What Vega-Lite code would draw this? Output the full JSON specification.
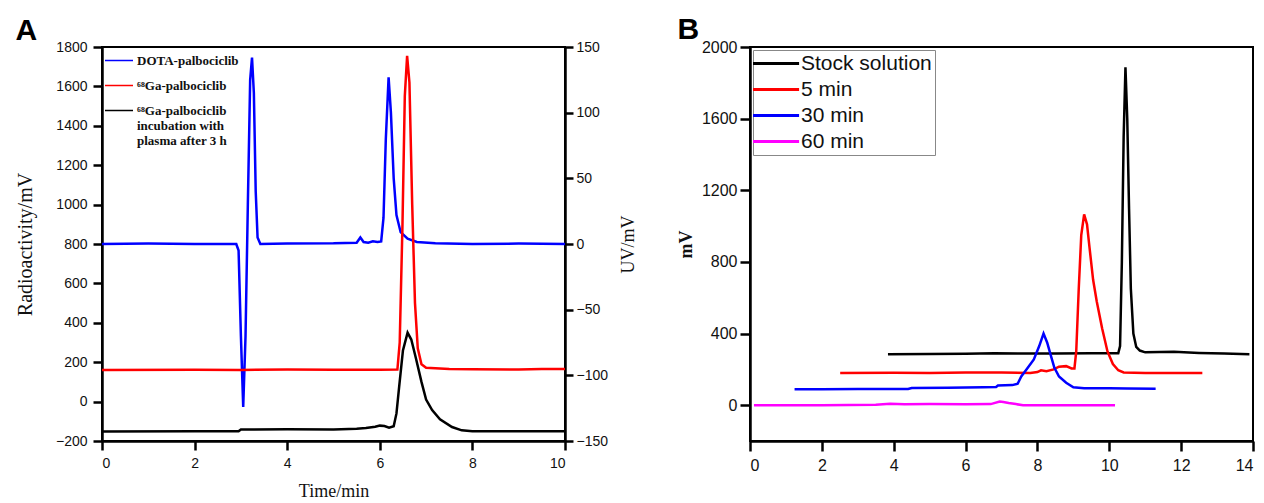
{
  "$schema": "https://vega.github.io/schema/vega-lite/v6.json",
  "background": "white",
  "padding": {"left": 14, "top": 14, "right": 0, "bottom": 2},
  "spacing": 37,
  "datasets": {
    "a": [
      {"s": "DOTA-palbociclib", "t": 0, "v": 0},
      {"s": "DOTA-palbociclib", "t": 1, "v": 0.3},
      {"s": "DOTA-palbociclib", "t": 2, "v": 0},
      {"s": "DOTA-palbociclib", "t": 2.9, "v": 0},
      {"s": "DOTA-palbociclib", "t": 2.95, "v": -5},
      {"s": "DOTA-palbociclib", "t": 3.0, "v": -70},
      {"s": "DOTA-palbociclib", "t": 3.05, "v": -124},
      {"s": "DOTA-palbociclib", "t": 3.1, "v": -70},
      {"s": "DOTA-palbociclib", "t": 3.15, "v": 30},
      {"s": "DOTA-palbociclib", "t": 3.2, "v": 125},
      {"s": "DOTA-palbociclib", "t": 3.24, "v": 142},
      {"s": "DOTA-palbociclib", "t": 3.28, "v": 115},
      {"s": "DOTA-palbociclib", "t": 3.32, "v": 40},
      {"s": "DOTA-palbociclib", "t": 3.36, "v": 5},
      {"s": "DOTA-palbociclib", "t": 3.42, "v": 0},
      {"s": "DOTA-palbociclib", "t": 4, "v": 0.3},
      {"s": "DOTA-palbociclib", "t": 5, "v": 0.5},
      {"s": "DOTA-palbociclib", "t": 5.5, "v": 1},
      {"s": "DOTA-palbociclib", "t": 5.58, "v": 5},
      {"s": "DOTA-palbociclib", "t": 5.65, "v": 1.5},
      {"s": "DOTA-palbociclib", "t": 5.75, "v": 1},
      {"s": "DOTA-palbociclib", "t": 5.85, "v": 2},
      {"s": "DOTA-palbociclib", "t": 5.95, "v": 1.5},
      {"s": "DOTA-palbociclib", "t": 6.03, "v": 2},
      {"s": "DOTA-palbociclib", "t": 6.08, "v": 20},
      {"s": "DOTA-palbociclib", "t": 6.13, "v": 80},
      {"s": "DOTA-palbociclib", "t": 6.19, "v": 127},
      {"s": "DOTA-palbociclib", "t": 6.24, "v": 100},
      {"s": "DOTA-palbociclib", "t": 6.3, "v": 50},
      {"s": "DOTA-palbociclib", "t": 6.36, "v": 22},
      {"s": "DOTA-palbociclib", "t": 6.45, "v": 9},
      {"s": "DOTA-palbociclib", "t": 6.6, "v": 4},
      {"s": "DOTA-palbociclib", "t": 6.8, "v": 1.5},
      {"s": "DOTA-palbociclib", "t": 7.2, "v": 0.5},
      {"s": "DOTA-palbociclib", "t": 8, "v": 0},
      {"s": "DOTA-palbociclib", "t": 9, "v": 0.3},
      {"s": "DOTA-palbociclib", "t": 10, "v": 0},
      {"s": "⁶⁸Ga-palbociclib", "t": 0, "v": 160},
      {"s": "⁶⁸Ga-palbociclib", "t": 2, "v": 162},
      {"s": "⁶⁸Ga-palbociclib", "t": 3, "v": 161},
      {"s": "⁶⁸Ga-palbociclib", "t": 4, "v": 163},
      {"s": "⁶⁸Ga-palbociclib", "t": 5, "v": 162},
      {"s": "⁶⁸Ga-palbociclib", "t": 6, "v": 162},
      {"s": "⁶⁸Ga-palbociclib", "t": 6.38, "v": 163},
      {"s": "⁶⁸Ga-palbociclib", "t": 6.43, "v": 300},
      {"s": "⁶⁸Ga-palbociclib", "t": 6.49, "v": 900},
      {"s": "⁶⁸Ga-palbociclib", "t": 6.54, "v": 1550},
      {"s": "⁶⁸Ga-palbociclib", "t": 6.59, "v": 1755},
      {"s": "⁶⁸Ga-palbociclib", "t": 6.64, "v": 1620},
      {"s": "⁶⁸Ga-palbociclib", "t": 6.7, "v": 1000},
      {"s": "⁶⁸Ga-palbociclib", "t": 6.76, "v": 500},
      {"s": "⁶⁸Ga-palbociclib", "t": 6.82, "v": 270},
      {"s": "⁶⁸Ga-palbociclib", "t": 6.9, "v": 190},
      {"s": "⁶⁸Ga-palbociclib", "t": 7.0, "v": 172},
      {"s": "⁶⁸Ga-palbociclib", "t": 7.5, "v": 165},
      {"s": "⁶⁸Ga-palbociclib", "t": 8, "v": 164},
      {"s": "⁶⁸Ga-palbociclib", "t": 9, "v": 163},
      {"s": "⁶⁸Ga-palbociclib", "t": 9.5, "v": 166},
      {"s": "⁶⁸Ga-palbociclib", "t": 10, "v": 165},
      {"s": "plasma", "t": 0, "v": -152},
      {"s": "plasma", "t": 2, "v": -151},
      {"s": "plasma", "t": 2.95, "v": -151},
      {"s": "plasma", "t": 3.0, "v": -142},
      {"s": "plasma", "t": 4, "v": -140},
      {"s": "plasma", "t": 5, "v": -142},
      {"s": "plasma", "t": 5.5, "v": -138},
      {"s": "plasma", "t": 5.7, "v": -134},
      {"s": "plasma", "t": 5.9, "v": -128},
      {"s": "plasma", "t": 6.0, "v": -122},
      {"s": "plasma", "t": 6.1, "v": -124},
      {"s": "plasma", "t": 6.2, "v": -132},
      {"s": "plasma", "t": 6.3, "v": -125},
      {"s": "plasma", "t": 6.36, "v": -60},
      {"s": "plasma", "t": 6.42, "v": 80},
      {"s": "plasma", "t": 6.5, "v": 260},
      {"s": "plasma", "t": 6.6, "v": 350},
      {"s": "plasma", "t": 6.68, "v": 315},
      {"s": "plasma", "t": 6.78, "v": 220},
      {"s": "plasma", "t": 6.9, "v": 100},
      {"s": "plasma", "t": 7.0, "v": 10},
      {"s": "plasma", "t": 7.13, "v": -43},
      {"s": "plasma", "t": 7.3, "v": -90},
      {"s": "plasma", "t": 7.56, "v": -129},
      {"s": "plasma", "t": 7.77, "v": -146},
      {"s": "plasma", "t": 8, "v": -150},
      {"s": "plasma", "t": 9, "v": -151},
      {"s": "plasma", "t": 10, "v": -150}
    ],
    "b": [
      {"s": "Stock solution", "t": 3.84, "v": 285},
      {"s": "Stock solution", "t": 5, "v": 286},
      {"s": "Stock solution", "t": 6, "v": 287},
      {"s": "Stock solution", "t": 6.8, "v": 290},
      {"s": "Stock solution", "t": 7.5, "v": 289},
      {"s": "Stock solution", "t": 8.5, "v": 289},
      {"s": "Stock solution", "t": 9.5, "v": 290},
      {"s": "Stock solution", "t": 10.25, "v": 290},
      {"s": "Stock solution", "t": 10.3, "v": 330},
      {"s": "Stock solution", "t": 10.35, "v": 800},
      {"s": "Stock solution", "t": 10.4, "v": 1500},
      {"s": "Stock solution", "t": 10.45, "v": 1887},
      {"s": "Stock solution", "t": 10.5, "v": 1600},
      {"s": "Stock solution", "t": 10.55, "v": 1100},
      {"s": "Stock solution", "t": 10.6, "v": 650},
      {"s": "Stock solution", "t": 10.67, "v": 400},
      {"s": "Stock solution", "t": 10.75, "v": 325},
      {"s": "Stock solution", "t": 10.85, "v": 305},
      {"s": "Stock solution", "t": 11, "v": 295},
      {"s": "Stock solution", "t": 11.8, "v": 298},
      {"s": "Stock solution", "t": 12.5, "v": 292},
      {"s": "Stock solution", "t": 13.2, "v": 288},
      {"s": "Stock solution", "t": 13.9, "v": 285},
      {"s": "5 min", "t": 2.51, "v": 180},
      {"s": "5 min", "t": 4, "v": 181},
      {"s": "5 min", "t": 5, "v": 180},
      {"s": "5 min", "t": 6, "v": 183},
      {"s": "5 min", "t": 7, "v": 182},
      {"s": "5 min", "t": 7.8, "v": 180},
      {"s": "5 min", "t": 8.0, "v": 185},
      {"s": "5 min", "t": 8.1, "v": 195},
      {"s": "5 min", "t": 8.25, "v": 190},
      {"s": "5 min", "t": 8.45, "v": 200},
      {"s": "5 min", "t": 8.6, "v": 215},
      {"s": "5 min", "t": 8.8, "v": 218},
      {"s": "5 min", "t": 8.95, "v": 205},
      {"s": "5 min", "t": 9.03, "v": 205},
      {"s": "5 min", "t": 9.08, "v": 300},
      {"s": "5 min", "t": 9.15, "v": 650},
      {"s": "5 min", "t": 9.22, "v": 950},
      {"s": "5 min", "t": 9.3, "v": 1065},
      {"s": "5 min", "t": 9.38, "v": 1010},
      {"s": "5 min", "t": 9.45, "v": 880},
      {"s": "5 min", "t": 9.55, "v": 700},
      {"s": "5 min", "t": 9.65, "v": 580},
      {"s": "5 min", "t": 9.8, "v": 430},
      {"s": "5 min", "t": 9.95, "v": 300},
      {"s": "5 min", "t": 10.1, "v": 230},
      {"s": "5 min", "t": 10.25, "v": 195},
      {"s": "5 min", "t": 10.4, "v": 183},
      {"s": "5 min", "t": 11, "v": 180},
      {"s": "5 min", "t": 12, "v": 180},
      {"s": "5 min", "t": 12.59, "v": 180},
      {"s": "30 min", "t": 1.24, "v": 89},
      {"s": "30 min", "t": 2, "v": 89},
      {"s": "30 min", "t": 3, "v": 90},
      {"s": "30 min", "t": 4.4, "v": 90},
      {"s": "30 min", "t": 4.5, "v": 96},
      {"s": "30 min", "t": 5.5, "v": 97},
      {"s": "30 min", "t": 6.5, "v": 100},
      {"s": "30 min", "t": 6.85, "v": 102},
      {"s": "30 min", "t": 6.9, "v": 110},
      {"s": "30 min", "t": 7.3, "v": 112},
      {"s": "30 min", "t": 7.45, "v": 120},
      {"s": "30 min", "t": 7.55, "v": 160},
      {"s": "30 min", "t": 7.7, "v": 200},
      {"s": "30 min", "t": 7.9, "v": 255},
      {"s": "30 min", "t": 8.05, "v": 330},
      {"s": "30 min", "t": 8.17, "v": 400},
      {"s": "30 min", "t": 8.27, "v": 350},
      {"s": "30 min", "t": 8.37, "v": 280},
      {"s": "30 min", "t": 8.47, "v": 210},
      {"s": "30 min", "t": 8.6, "v": 160},
      {"s": "30 min", "t": 8.8, "v": 125},
      {"s": "30 min", "t": 9.0, "v": 100},
      {"s": "30 min", "t": 9.3, "v": 95},
      {"s": "30 min", "t": 10, "v": 95},
      {"s": "30 min", "t": 10.5, "v": 93},
      {"s": "30 min", "t": 11.29, "v": 92},
      {"s": "60 min", "t": 0.11, "v": 0},
      {"s": "60 min", "t": 2, "v": 0},
      {"s": "60 min", "t": 3.5, "v": 2},
      {"s": "60 min", "t": 3.9, "v": 8},
      {"s": "60 min", "t": 4.3, "v": 5},
      {"s": "60 min", "t": 5, "v": 6},
      {"s": "60 min", "t": 6, "v": 5},
      {"s": "60 min", "t": 6.7, "v": 6},
      {"s": "60 min", "t": 6.95, "v": 20},
      {"s": "60 min", "t": 7.05, "v": 18},
      {"s": "60 min", "t": 7.2, "v": 12},
      {"s": "60 min", "t": 7.4, "v": 6},
      {"s": "60 min", "t": 7.6, "v": 0},
      {"s": "60 min", "t": 8, "v": 0},
      {"s": "60 min", "t": 9, "v": -1},
      {"s": "60 min", "t": 10.16, "v": 0}
    ]
  },
  "hconcat": [
    {
      "title": {"text": "A", "anchor": "start", "frame": "bounds", "font": "Liberation Sans", "fontSize": 30, "fontWeight": "bold", "color": "black", "offset": -6},
      "width": 463,
      "height": 394,
      "data": {"name": "a"},
      "layer": [
        {
          "transform": [{"filter": "datum.s == 'DOTA-palbociclib'"}],
          "mark": {"type": "line", "strokeWidth": 2.5},
          "encoding": {
            "x": {"field": "t", "type": "quantitative", "scale": {"domain": [0, 10], "nice": false},
                  "axis": {"values": [0, 2, 4, 6, 8, 10], "format": "d", "title": "Time/min", "titleFont": "Liberation Serif", "titleFontWeight": "normal", "titleFontSize": 18, "titlePadding": 12, "labelFontSize": 14, "labelPadding": 6}},
            "y": {"field": "v", "type": "quantitative", "scale": {"domain": [-150, 150], "nice": false},
                  "axis": {"orient": "right", "values": [-150, -100, -50, 0, 50, 100, 150], "format": "d", "title": "UV/mV", "titleAngle": 270, "titleBaseline": "top", "titleFont": "Liberation Serif", "titleFontWeight": "normal", "titleFontSize": 18, "titlePadding": 12, "labelFontSize": 14, "labelPadding": 3, "tickSize": 8}},
            "color": {"field": "s", "type": "nominal",
                      "scale": {"domain": ["DOTA-palbociclib", "⁶⁸Ga-palbociclib", "plasma"], "range": ["#0000ff", "#ff0000", "#000000"]},
                      "legend": {"orient": "top-left", "offset": 5, "padding": 2, "title": null,
                                 "symbolType": "M-3.75,0H6.25", "symbolSize": 31.4, "symbolStrokeWidth": 1.5,
                                 "labelFont": "Liberation Serif", "labelFontWeight": "bold", "labelFontSize": 13, "labelColor": "#111",
                                 "rowPadding": 11, "labelOffset": 15,
                                 "labelExpr": "datum.label == 'plasma' ? ['⁶⁸Ga-palbociclib', '  incubation with', '  plasma after 3 h'] : datum.label"}}
          }
        },
        {
          "transform": [{"filter": "datum.s != 'DOTA-palbociclib'"}],
          "mark": {"type": "line", "strokeWidth": 2.5},
          "encoding": {
            "x": {"field": "t", "type": "quantitative"},
            "y": {"field": "v", "type": "quantitative", "scale": {"domain": [-200, 1800], "nice": false},
                  "axis": {"values": [-200, 0, 200, 400, 600, 800, 1000, 1200, 1400, 1600, 1800], "format": "d", "title": "Radioactivity/mV", "titleFont": "Liberation Serif", "titleFontWeight": "normal", "titleFontSize": 20, "titlePadding": 20, "labelFontSize": 14, "labelPadding": 6}},
            "color": {"field": "s", "type": "nominal",
                      "scale": {"domain": ["DOTA-palbociclib", "⁶⁸Ga-palbociclib", "plasma"], "range": ["#0000ff", "#ff0000", "#000000"]},
                      "legend": {"orient": "top-left", "offset": 5, "padding": 2, "title": null,
                                 "symbolType": "M-3.75,0H6.25", "symbolSize": 31.4, "symbolStrokeWidth": 1.5,
                                 "labelFont": "Liberation Serif", "labelFontWeight": "bold", "labelFontSize": 13, "labelColor": "#111",
                                 "rowPadding": 11, "labelOffset": 15,
                                 "labelExpr": "datum.label == 'plasma' ? ['⁶⁸Ga-palbociclib', '  incubation with', '  plasma after 3 h'] : datum.label"}}
          }
        }
      ],
      "resolve": {"scale": {"y": "independent"}}
    },
    {
      "title": {"text": "B", "anchor": "start", "frame": "bounds", "font": "Liberation Sans", "fontSize": 30, "fontWeight": "bold", "color": "black", "offset": -6},
      "width": 503,
      "height": 394,
      "data": {"name": "b"},
      "mark": {"type": "line", "strokeWidth": 2.5},
      "encoding": {
        "x": {"field": "t", "type": "quantitative", "scale": {"domain": [0, 14], "nice": false},
              "axis": {"values": [0, 2, 4, 6, 8, 10, 12, 14], "format": "d", "title": null, "labelFontSize": 16, "labelPadding": 6, "tickSize": 10}},
        "y": {"field": "v", "type": "quantitative", "scale": {"domain": [-200, 2000], "nice": false},
              "axis": {"values": [0, 400, 800, 1200, 1600, 2000], "format": "d", "title": "mV", "titleFont": "Liberation Serif", "titleFontWeight": "bold", "titleFontSize": 18, "titlePadding": 6, "labelFontSize": 16, "labelPadding": 3, "tickSize": 10}},
        "color": {"field": "s", "type": "nominal",
                  "scale": {"domain": ["Stock solution", "5 min", "30 min", "60 min"], "range": ["#000000", "#ff0000", "#0000ff", "#ff00ff"]},
                  "legend": {"orient": "top-left", "offset": 3, "padding": 3, "title": null,
                             "strokeColor": "#888888", "fillColor": "white",
                             "symbolType": "M-2.93,0H7.07", "symbolSize": 85, "symbolStrokeWidth": 3,
                             "labelFont": "Liberation Sans", "labelFontSize": 21, "labelColor": "#111",
                             "rowPadding": 4, "labelOffset": 24}}
      }
    }
  ],
  "resolve": {"scale": {"color": "independent", "x": "independent", "y": "independent"}, "legend": {"color": "independent"}},
  "config": {
    "view": {"stroke": "black", "strokeWidth": 2},
    "axis": {"grid": false, "ticks": true, "domainColor": "black", "domainWidth": 2.5, "tickColor": "black", "tickWidth": 2.5, "tickSize": 9,
             "labelFont": "Liberation Sans", "labelColor": "#111", "titleColor": "#111"}
  }
}
